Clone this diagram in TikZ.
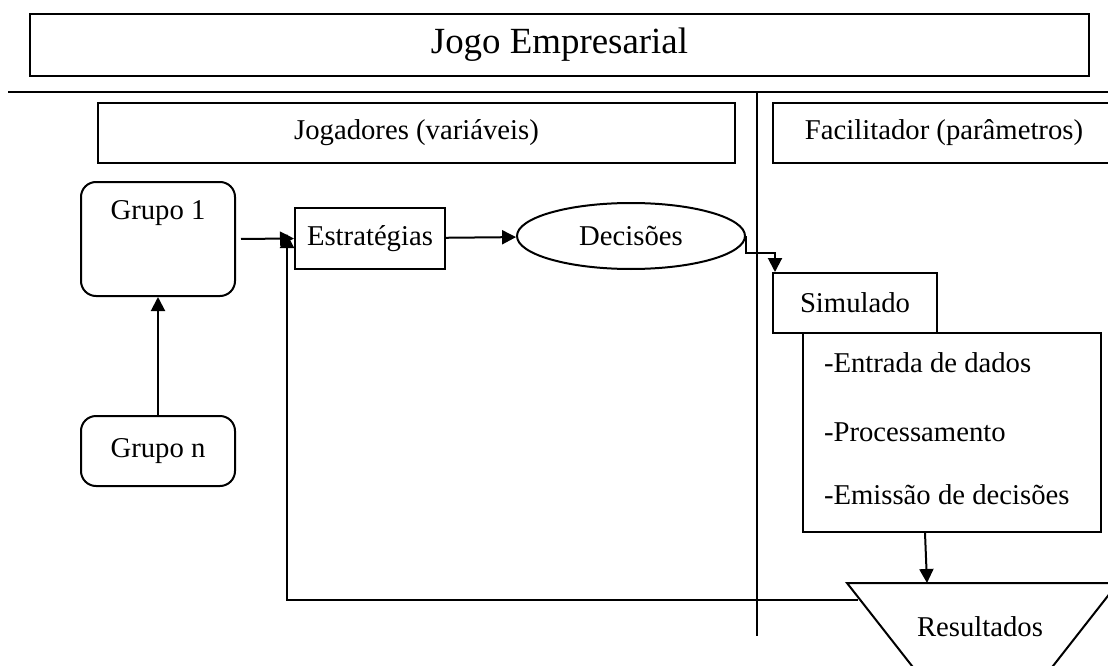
\documentclass[tikz,border=0pt]{standalone}
\usepackage{fontspec}
\setmainfont{Liberation Serif}
\usetikzlibrary{shapes.geometric,arrows.meta}

\begin{document}
\begin{tikzpicture}[x=1pt,y=-1pt,line width=2pt,
    box/.style={draw,inner sep=0pt},
    txt/.style={font=\fontsize{28.7}{34}\selectfont},
    item/.style={txt,anchor=west,inner sep=0pt},
    >={Triangle[length=14pt,width=14pt]}]

    \useasboundingbox (0,0) rectangle (1108,666);
    \clip (0,0) rectangle (1108,666);

    \node[box,minimum width=1059pt,minimum height=62pt,font=\fontsize{36.9}{44}\selectfont] (jogo) at (559.5,45) {Jogo Empresarial};
    \node[box,txt,minimum width=637pt,minimum height=60pt] (jog) at (416.5,133) {Jogadores (variáveis)};
    \node[box,txt,minimum width=342pt,minimum height=60pt] (fac) at (944,133) {Facilitador (parâmetros)};

    \node[box,rounded corners=15pt,minimum width=154pt,minimum height=114pt] (g1) at (158,239) {};
    \node[txt] (g1t) at (158,213) {Grupo 1};
    \node[box,txt,rounded corners=15pt,minimum width=154pt,minimum height=70pt] (gn) at (158,451) {Grupo n};
    \node[box,txt,minimum width=150pt,minimum height=61pt] (est) at (370,238.5) {Estratégias};
    \node[box,txt,ellipse,minimum width=228pt,minimum height=66pt] (dec) at (631,236) {Decisões};

    \node[box,txt,minimum width=164pt,minimum height=60pt] (sim) at (855,303) {Simulado};
    \node[box,minimum width=298pt,minimum height=199pt] (lst) at (952,432.5) {};
    \node[item] (l1) at (823,363) {-Entrada de dados};
    \node[item] (l2) at (823,432) {-Processamento};
    \node[item] (l3) at (823,495) {-Emissão de decisões};

    \coordinate (ta) at (847,583);
    \coordinate (tb) at (1118,583);
    \coordinate (tc) at (982.5,756);
    \draw (ta) -- (tb) -- (tc) -- cycle;
    \node[txt] (res) at (980,627) {Resultados};

    \coordinate (rt) at (927,583);
    \coordinate (rl) at (858,600);
    \coordinate (ja) at (287,234);

    \draw (8,92) -- (1108,92);
    \draw[line width=1.6pt] (757,92) -- (757,636);

    \draw [->] (gn) to (g1);
    \draw [->,shorten <=5pt] (g1.east) to (est.west);
    \draw [->] (rl) -| (ja);
    \draw [->] (est) to (dec);
    \draw [->] (dec.east) -- ++(0,17) -| ([xshift=3pt]sim.north west);
    \draw [->] ([xshift=-27pt]lst.south) to (rt);

\end{tikzpicture}
\end{document}
